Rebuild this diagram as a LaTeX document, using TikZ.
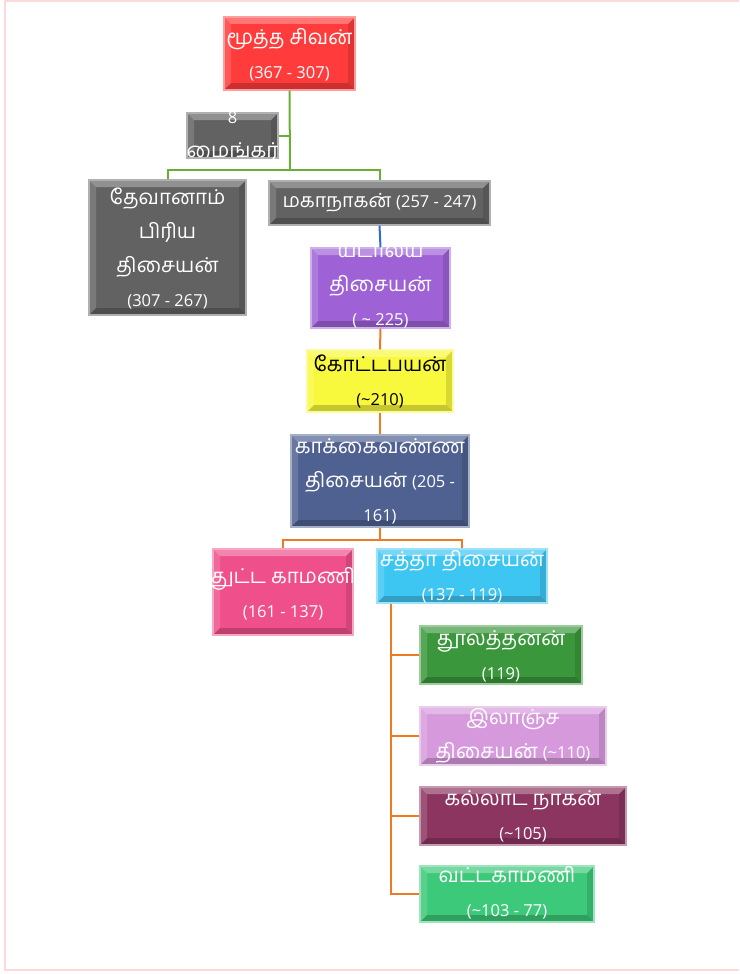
\documentclass[tikz,border=0pt]{standalone}
\usepackage{fontspec}
\setmainfont{Hind Madurai}[Script=Tamil]
\newfontfamily\numfont{Open Sans}
\newcommand\nm[1]{{\numfont\fontsize{16.5}{34}\selectfont #1}}
\definecolor{cRed}{HTML}{FF3B3B}
\definecolor{cGray}{HTML}{626262}
\definecolor{cPurple}{HTML}{9E62D6}
\definecolor{cYellow}{HTML}{F8F83C}
\definecolor{cSlate}{HTML}{4E6190}
\definecolor{cPink}{HTML}{EF4F8A}
\definecolor{cCyan}{HTML}{3EC6F3}
\definecolor{cGreenA}{HTML}{3B973B}
\definecolor{cOrchid}{HTML}{D69ADC}
\definecolor{cMaroon}{HTML}{8C3561}
\definecolor{cGreenB}{HTML}{3DC97A}
\definecolor{lGreen}{HTML}{6BAE35}
\definecolor{lBlue}{HTML}{2F6BD6}
\definecolor{lOrange}{HTML}{EE7A24}
\definecolor{frame}{HTML}{FFD8DA}
\begin{document}
\begin{tikzpicture}[x=1pt,y=-1pt,
  box/.style={draw=#1!50!white, line width=1.1pt, fill=#1, inner sep=0pt,
    path picture={
      \fill[white,opacity=.30] (path picture bounding box.north west) -- (path picture bounding box.north east)
        -- ([shift={(-7pt,-7pt)}]path picture bounding box.north east) -- ([shift={(7pt,-7pt)}]path picture bounding box.north west) -- cycle;
      \fill[white,opacity=.15] (path picture bounding box.north west) -- ([shift={(7pt,-7pt)}]path picture bounding box.north west)
        -- ([shift={(7pt,7pt)}]path picture bounding box.south west) -- (path picture bounding box.south west) -- cycle;
      \fill[black,opacity=.20] (path picture bounding box.south west) -- (path picture bounding box.south east)
        -- ([shift={(-7pt,7pt)}]path picture bounding box.south east) -- ([shift={(7pt,7pt)}]path picture bounding box.south west) -- cycle;
      \fill[black,opacity=.12] (path picture bounding box.north east) -- (path picture bounding box.south east)
        -- ([shift={(-7pt,7pt)}]path picture bounding box.south east) -- ([shift={(-7pt,-7pt)}]path picture bounding box.north east) -- cycle;
    }},
  txt/.style={text=white, align=center, inner sep=0pt, font=\fontsize{20.5}{34}\selectfont},
  gline/.style={draw=lGreen, line width=2pt},
  bline/.style={draw=lBlue, line width=2pt},
  oline/.style={draw=lOrange, line width=2pt}]
\useasboundingbox (0,0) rectangle (739,974);
\draw[frame, line width=2pt] (739,1) -- (5,1) -- (5,970) -- (739,970);

% boxes
\node[box=cRed,    minimum width=131pt, minimum height=73pt] (b1)  at (289.5,53.5) {};
\node[box=cGray,   minimum width=91pt,  minimum height=45pt] (b2)  at (232.5,135.5) {};
\node[box=cGray,   minimum width=157pt, minimum height=135pt] (b3) at (167.5,247.5) {};
\node[box=cGray,   minimum width=221pt, minimum height=44pt] (b4)  at (379.5,203) {};
\node[box=cPurple, minimum width=139pt, minimum height=80pt] (b5)  at (380.5,288) {};
\node[box=cYellow, minimum width=146pt, minimum height=62pt] (b6)  at (380,381) {};
\node[box=cSlate,  minimum width=178pt, minimum height=92pt] (b7)  at (380,481) {};
\node[box=cPink,   minimum width=140pt, minimum height=86pt] (b8)  at (283,592) {};
\node[box=cCyan,   minimum width=170pt, minimum height=54pt] (b9)  at (462,576) {};
\node[box=cGreenA, minimum width=162pt, minimum height=58pt] (b10) at (501,655) {};
\node[box=cOrchid, minimum width=186pt, minimum height=58pt] (b11) at (513,736) {};
\node[box=cMaroon, minimum width=206pt, minimum height=58pt] (b12) at (523,816) {};
\node[box=cGreenB, minimum width=174pt, minimum height=56pt] (b13) at (507,894) {};

% texts
\begin{scope}
\clip (b1.south west) rectangle (b1.north east);
\node[txt] (t1) at (289.5,55) {மூத்த சிவன்\\\nm{(367 - 307)}};
\end{scope}
\begin{scope}
\clip (b2.south west) rectangle (b2.north east);
\node[txt] (t2) at (232.5,136) {\nm{8}\\மைங்கர்};
\end{scope}
\node[txt] (t3) at (167.5,248) {தேவானாம்\\பிரிய\\திசையன்\\\nm{(307 - 267)}};
\node[txt, font=\fontsize{19.5}{34}\selectfont] (t4) at (379.5,203) {மகாநாகன் \nm{(257 - 247)}};
\begin{scope}
\clip (b5.south west) rectangle (b5.north east);
\node[txt] (t5) at (380.5,287) {யடாலய\\திசையன்\\\nm{( \textasciitilde{} 225)}};
\end{scope}
\node[txt, text=black] (t6) at (380,381) {கோட்டபயன்\\\nm{(\textasciitilde{}210)}};
\node[txt] (t7) at (380,481) {காக்கைவண்ண\\திசையன் \nm{(205 -}\\\nm{161)}};
\node[txt] (t8) at (283,594) {துட்ட காமணி\\\nm{(161 - 137)}};
\node[txt] (t9) at (462,577) {சத்தா திசையன்\\\nm{(137 - 119)}};
\node[txt] (t10) at (501,656) {தூலத்தனன்\\\nm{(119)}};
\node[txt] (t11) at (513,736) {இலாஞ்ச\\திசையன் \nm{(\textasciitilde{}110)}};
\node[txt] (t12) at (523,816) {கல்லாட நாகன்\\\nm{(\textasciitilde{}105)}};
\node[txt] (t13) at (507,893) {வட்டகாமணி\\\nm{(\textasciitilde{}103 - 77)}};

% connectors
\coordinate (g1) at (290,170);
\coordinate (o1) at (380,540);
\coordinate (sp) at ([xshift=15pt]b9.south west);
\draw[gline] (b1.south) -- (g1);
\draw[gline] (b2.east) -- (b2.east -| g1);
\draw[gline] (b3.north) |- (g1) -| (b4.north);
\draw[bline] (b4.south) -- (b5.north);
\draw[oline] (b5.south) -- (b6.north);
\draw[oline] (b6.south) -- (b7.north);
\draw[oline] (b7.south) -- (o1);
\draw[oline] (b8.north) |- (o1) -| (b9.north);
\draw[oline] (sp) |- (b13.west);
\draw[oline] (b10.west) -- (b10.west -| sp);
\draw[oline] (b11.west) -- (b11.west -| sp);
\draw[oline] (b12.west) -- (b12.west -| sp);
\end{tikzpicture}
\end{document}
